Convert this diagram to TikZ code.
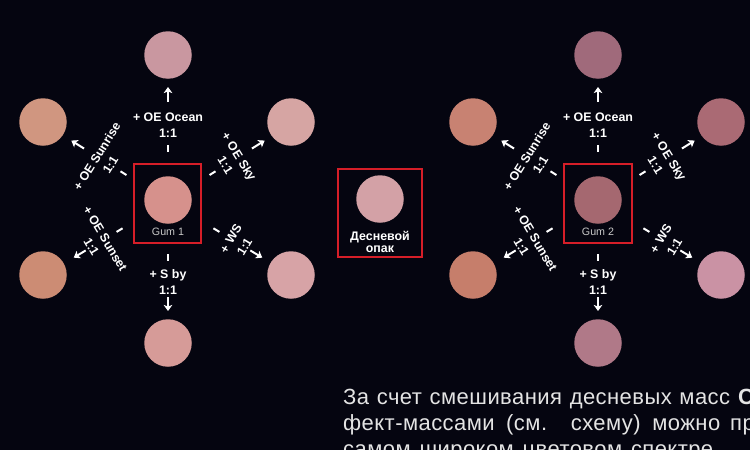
\documentclass[tikz,border=0pt]{standalone}
\usepackage{fontspec}
\setmainfont{Liberation Sans}
\newfontfamily\bodyfont[LetterSpace=2]{Liberation Sans}
\usetikzlibrary{arrows.meta}
\definecolor{bg}{RGB}{5,5,16}
\definecolor{boxred}{RGB}{214,30,40}
\definecolor{gumgray}{RGB}{200,200,200}
\definecolor{bodytext}{RGB}{228,228,228}
% left group
\definecolor{lOcean}{RGB}{201,151,160}
\definecolor{lSunrise}{RGB}{208,150,128}
\definecolor{lSky}{RGB}{214,165,163}
\definecolor{lGum}{RGB}{214,145,140}
\definecolor{lSunset}{RGB}{204,140,116}
\definecolor{lWS}{RGB}{215,163,166}
\definecolor{lSby}{RGB}{214,155,152}
\definecolor{mOpak}{RGB}{211,161,166}
% right group
\definecolor{rOcean}{RGB}{160,106,123}
\definecolor{rSunrise}{RGB}{200,130,114}
\definecolor{rSky}{RGB}{170,106,116}
\definecolor{rGum}{RGB}{165,104,112}
\definecolor{rSunset}{RGB}{198,126,107}
\definecolor{rWS}{RGB}{202,146,164}
\definecolor{rSby}{RGB}{176,121,136}
\tikzset{
  disc/.style={circle, minimum size=47.5pt, inner sep=0pt},
  lbl/.style={font=\bfseries\fontsize{12.4}{12}\selectfont, text=white, inner sep=0pt,
              transform shape, text height=9pt, text depth=0pt},
  tickln/.style={white, line width=2pt},
  arr/.style={white, line width=2pt, -{Stealth[length=6pt,width=8.5pt,inset=1.5pt]}},
  redbox/.style={draw=boxred, line width=1.6pt, inner sep=0pt},
  gumlbl/.style={font=\fontsize{10.7}{11}\selectfont, text=gumgray, inner sep=0pt},
  bodyline/.style={font=\bodyfont\fontsize{22}{26}\selectfont, text=bodytext, inner sep=0pt, anchor=base west}
}
% group pointing "up" (text above tick)
\newcommand\upgroup[5]{%
  \begin{scope}[shift={(#2,#3)}, rotate=#4]
    \coordinate (#1t1) at (0,-49); \coordinate (#1t2) at (0,-56);
    \draw[tickln] (#1t1) -- (#1t2);
    \node[lbl] (#1r) at (0,-68) {1:1};
    \node[lbl] (#1n) at (0,-84) {+ #5};
    \coordinate (#1a1) at (0,-99); \coordinate (#1a2) at (0,-114);
    \draw[arr] (#1a1) -- (#1a2);
  \end{scope}}
% group pointing "down"
\newcommand\downgroup[5]{%
  \begin{scope}[shift={(#2,#3)}, rotate=#4]
    \coordinate (#1t1) at (0,53); \coordinate (#1t2) at (0,60);
    \draw[tickln] (#1t1) -- (#1t2);
    \node[lbl] (#1n) at (0,73) {+ #5};
    \node[lbl] (#1r) at (0,89) {1:1};
    \coordinate (#1a1) at (0,96); \coordinate (#1a2) at (0,110);
    \draw[arr] (#1a1) -- (#1a2);
  \end{scope}}
\begin{document}
\begin{tikzpicture}[x=1pt,y=-1pt]
\useasboundingbox (0,0) rectangle (750,450);
\fill[bg] (0,0) rectangle (750,450);
\clip (0,0) rectangle (750,450);

% ---------- left group ----------
\node[redbox, minimum width=67pt, minimum height=79pt] (box1) at (167.5,203.5) {};
\node[disc, fill=lGum] (gum1) at (168,200) {};
\node[gumlbl] (gum1l) at (168,232) {Gum 1};
\node[disc, fill=lOcean] (l1) at (168,55) {};
\node[disc, fill=lSunrise] (l2) at (43,122) {};
\node[disc, fill=lSky] (l3) at (291,122) {};
\node[disc, fill=lSunset] (l4) at (43,275) {};
\node[disc, fill=lWS] (l5) at (291,275) {};
\node[disc, fill=lSby] (l6) at (168,343) {};
\upgroup{la}{168}{201}{0}{OE Ocean}
\upgroup{lb}{168}{201}{58}{OE Sunrise}
\upgroup{lc}{168}{201}{-58}{OE Sky}
\downgroup{ld}{168}{201}{-59}{OE Sunset}
\downgroup{le}{168}{201}{59}{WS}
\downgroup{lf}{168}{201}{0}{S by}

% ---------- middle ----------
\node[redbox, minimum width=84pt, minimum height=88pt] (box2) at (380,213) {};
\node[disc, fill=mOpak] (opak) at (380,199) {};
\node[align=center, font=\bfseries\fontsize{12.4}{11.5}\selectfont, text=white, inner sep=0pt] (opakl) at (380,242) {Десневой\\опак};

% ---------- right group ----------
\node[redbox, minimum width=68pt, minimum height=79pt] (box3) at (598,203.5) {};
\node[disc, fill=rGum] (gum2) at (598,200) {};
\node[gumlbl] (gum2l) at (598,232) {Gum 2};
\node[disc, fill=rOcean] (r1) at (598,55) {};
\node[disc, fill=rSunrise] (r2) at (473,122) {};
\node[disc, fill=rSky] (r3) at (721,122) {};
\node[disc, fill=rSunset] (r4) at (473,275) {};
\node[disc, fill=rWS] (r5) at (721,275) {};
\node[disc, fill=rSby] (r6) at (598,343) {};
\upgroup{ra}{598}{201}{0}{OE Ocean}
\upgroup{rb}{598}{201}{58}{OE Sunrise}
\upgroup{rc}{598}{201}{-58}{OE Sky}
\downgroup{rd}{598}{201}{-59}{OE Sunset}
\downgroup{re}{598}{201}{59}{WS}
\downgroup{rf}{598}{201}{0}{S by}

% ---------- body text ----------
\node[bodyline] (p1) at (343,404) {\makebox[387pt][s]{За счет смешивания десневых масс}};
\node[bodyline] (p1b) at (738,404) {\bfseries С};
\node[bodyline] (p2) at (343,430) {\makebox[377pt][s]{фект-массами (см. схему) можно}};
\node[bodyline] (p2b) at (730,430) {про};
\node[bodyline] (p3) at (343,456) {\makebox[370pt][s]{самом широком цветовом спектре}};
\end{tikzpicture}
\end{document}
